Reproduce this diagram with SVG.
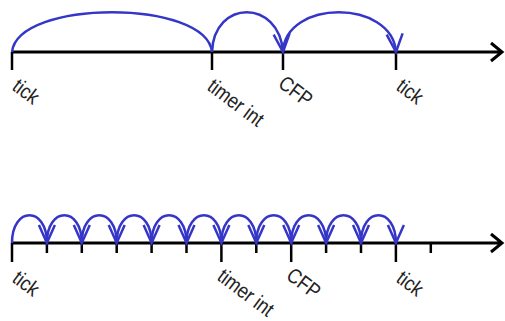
<svg xmlns="http://www.w3.org/2000/svg" width="505" height="321" viewBox="0 0 505 321">
<style>
.axis{stroke:#000;stroke-width:3;fill:none}
.tick{stroke:#000;stroke-width:2.5;fill:none}
.arc{stroke:#3535c8;stroke-width:2.5;fill:none}
.lbl{font-family:"Liberation Sans",Arial,sans-serif;font-size:21px;fill:#222}
</style>
<defs>
<marker id="v" markerUnits="userSpaceOnUse" markerWidth="30" markerHeight="30" refX="0" refY="0" orient="auto" overflow="visible">
<path d="M-18,-8 L0,0 L-18,8" fill="none" stroke="#3535c8" stroke-width="2.5"/>
</marker>
</defs>
<g id="top-axis">
<path class="axis" d="M12,52 H502 M491,43 L502,52 L491,61"/>
<path class="tick" d="M12,52 V70 M212,52 V70 M283,52 V70 M396,52 V70"/>
</g>
<g id="top-labels">
<text class="lbl" transform="translate(11,89) rotate(37) scale(0.86,1)">tick</text>
<text class="lbl" transform="translate(206,89) rotate(37) scale(0.86,1)">timer int</text>
<text class="lbl" transform="translate(277,86) rotate(37) scale(0.86,1)">CFP</text>
<text class="lbl" transform="translate(395,89) rotate(37) scale(0.86,1)">tick</text>
</g>
<g id="top-connectors">
<path class="arc" d="M12,52 C18,-1 206,-1 212,52"/>
<path class="arc" marker-end="url(#v)" d="M212,52 C214,-1 279,-1 283,52"/>
<path class="arc" marker-end="url(#v)" d="M283,52 C285,-1 392,-1 396,52"/>
</g>
<g id="bottom-axis">
<path class="axis" d="M12,243 H502 M491,234 L502,243 L491,252"/>
<path class="tick" d="M12,243 V262 M221.4,243 V262 M291.2,243 V262 M395.9,243 V262"/>
<path class="tick" d="M46.9,243 V253 M81.8,243 V253 M116.7,243 V253 M151.6,243 V253 M186.5,243 V253 M256.3,243 V253 M326.1,243 V253 M361,243 V253 M430.8,243 V253"/>
</g>
<g id="bottom-labels">
<text class="lbl" transform="translate(11,281) rotate(37) scale(0.86,1)">tick</text>
<text class="lbl" transform="translate(216,279) rotate(37) scale(0.86,1)">timer int</text>
<text class="lbl" transform="translate(285,278) rotate(37) scale(0.86,1)">CFP</text>
<text class="lbl" transform="translate(395,281) rotate(37) scale(0.86,1)">tick</text>
</g>
<g id="bottom-connectors">
<path class="arc" marker-end="url(#v)" d="M12,243 C12,206 46.9,206 46.9,243"/>
<path class="arc" marker-end="url(#v)" d="M46.9,243 C46.9,206 81.8,206 81.8,243"/>
<path class="arc" marker-end="url(#v)" d="M81.8,243 C81.8,206 116.7,206 116.7,243"/>
<path class="arc" marker-end="url(#v)" d="M116.7,243 C116.7,206 151.6,206 151.6,243"/>
<path class="arc" marker-end="url(#v)" d="M151.6,243 C151.6,206 186.5,206 186.5,243"/>
<path class="arc" marker-end="url(#v)" d="M186.5,243 C186.5,206 221.4,206 221.4,243"/>
<path class="arc" marker-end="url(#v)" d="M221.4,243 C221.4,206 256.3,206 256.3,243"/>
<path class="arc" marker-end="url(#v)" d="M256.3,243 C256.3,206 291.2,206 291.2,243"/>
<path class="arc" marker-end="url(#v)" d="M291.2,243 C291.2,206 326.1,206 326.1,243"/>
<path class="arc" marker-end="url(#v)" d="M326.1,243 C326.1,206 361,206 361,243"/>
<path class="arc" marker-end="url(#v)" d="M361,243 C361,206 395.9,206 395.9,243"/>
</g>
</svg>
